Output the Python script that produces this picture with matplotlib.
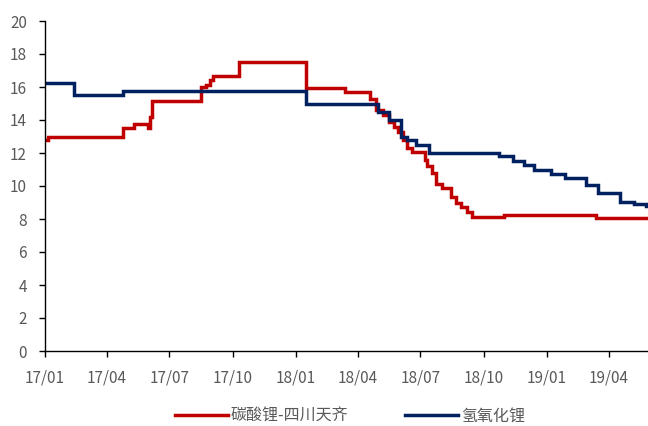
import matplotlib
matplotlib.use("Agg")
import matplotlib.pyplot as plt
import matplotlib.dates as mdates
import pandas as pd

plt.rcParams['font.family'] = ['Noto Sans CJK SC', 'DejaVu Sans']

# 碳酸锂-四川天齐 step changes
li2co3_dates = ["2017-01-01", "2017-01-05", "2017-04-24", "2017-05-10", "2017-05-31",
                "2017-06-02", "2017-06-05", "2017-08-16", "2017-08-23", "2017-08-29",
                "2017-09-02", "2017-10-10", "2018-01-15", "2018-03-14", "2018-04-18",
                "2018-04-28", "2018-05-08", "2018-05-17", "2018-05-23", "2018-05-29",
                "2018-06-05", "2018-06-12", "2018-06-19", "2018-07-07", "2018-07-11",
                "2018-07-18", "2018-07-24", "2018-08-02", "2018-08-15", "2018-08-22",
                "2018-08-29", "2018-09-07", "2018-09-14", "2018-10-31", "2019-03-14",
                "2019-05-28"]
li2co3_vals = [12.8, 13.0, 13.5, 13.75, 13.5,
               14.2, 15.15, 16.0, 16.15, 16.45,
               16.65, 17.5, 15.95, 15.7, 15.25,
               14.6, 14.3, 13.9, 13.6, 13.3,
               12.8, 12.3, 12.05, 11.6, 11.2,
               10.8, 10.15, 9.85, 9.35, 8.95,
               8.75, 8.4, 8.1, 8.25, 8.05,
               8.05]

# 氢氧化锂 step changes
lioh_dates = ["2017-01-01", "2017-02-12", "2017-04-25", "2018-01-15", "2018-04-30",
              "2018-05-17", "2018-06-03", "2018-06-11", "2018-06-25", "2018-07-14",
              "2018-10-24", "2018-11-12", "2018-11-29", "2018-12-13", "2019-01-07",
              "2019-01-27", "2019-02-27", "2019-03-16", "2019-04-17", "2019-05-08",
              "2019-05-25", "2019-05-28"]
lioh_vals = [16.25, 15.5, 15.75, 15.0, 14.5,
             14.0, 13.0, 12.8, 12.5, 12.0,
             11.8, 11.5, 11.3, 10.95, 10.75,
             10.5, 10.05, 9.55, 9.05, 8.9,
             8.8, 8.8]

series_names = ["碳酸锂-四川天齐", "氢氧化锂"]
y_ticks = [0, 2, 4, 6, 8, 10, 12, 14, 16, 18, 20]
x_tick_labels = ["17/01", "17/04", "17/07", "17/10", "18/01", "18/04", "18/07", "18/10", "19/01", "19/04"]

fig = plt.figure(figsize=(6.48, 4.26), dpi=100)
ax = fig.add_axes([45/648, 75/426, (648-45)/648, 330/426])

ax.plot(pd.to_datetime(li2co3_dates), li2co3_vals, drawstyle='steps-post',
        color='#C00000', lw=2.5, label=series_names[0], solid_joinstyle='miter')
ax.plot(pd.to_datetime(lioh_dates), lioh_vals, drawstyle='steps-post',
        color='#002060', lw=2.5, label=series_names[1], solid_joinstyle='miter')

ax.set_xlim(pd.Timestamp("2017-01-01"), pd.Timestamp("2019-05-28"))
ax.set_ylim(0, 20)
ax.set_yticks(y_ticks)
tick_pos = pd.date_range("2017-01-01", periods=len(x_tick_labels), freq="3MS")
ax.set_xticks(tick_pos)
ax.set_xticklabels(x_tick_labels)

for s in ['top', 'right']:
    ax.spines[s].set_visible(False)
for s in ['left', 'bottom']:
    ax.spines[s].set_color('black')
    ax.spines[s].set_linewidth(1.0)
ax.tick_params(axis='both', direction='out', length=4, width=1, color='black',
               labelcolor='#595959', labelsize=11)
ax.tick_params(axis='x', pad=9)
ax.tick_params(axis='y', pad=9)

leg = fig.legend(loc='center', bbox_to_anchor=(0.54, 1 - 416/426), ncol=2, frameon=False,
                 fontsize=11.5, handlelength=3.3, columnspacing=3.6, handletextpad=0.15)
for t in leg.get_texts():
    t.set_color('#595959')

fig.savefig("out.png", dpi=100)
